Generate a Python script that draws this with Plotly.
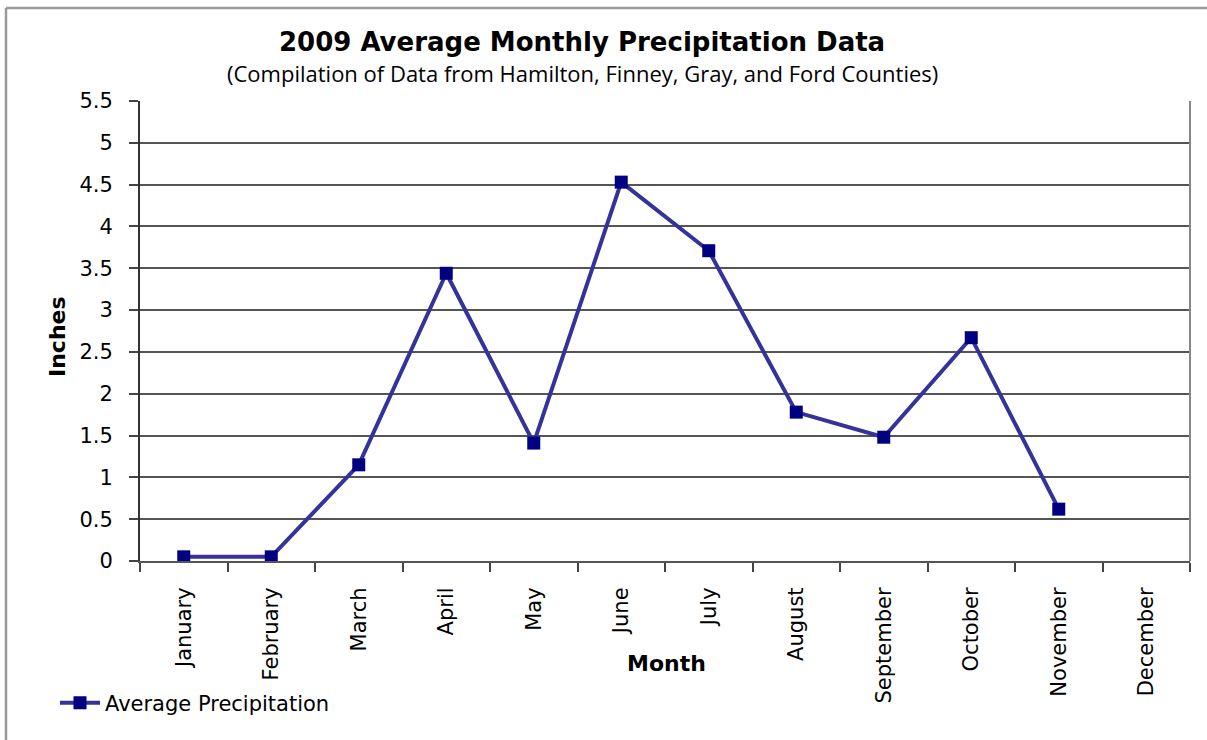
import plotly.graph_objects as go

months = ["January", "February", "March", "April", "May", "June", "July",
          "August", "September", "October", "November", "December"]
precip = [0.05, 0.05, 1.15, 3.44, 1.41, 4.53, 3.71, 1.78, 1.48, 2.67, 0.62, None]
y_ticks = [0, 0.5, 1, 1.5, 2, 2.5, 3, 3.5, 4, 4.5, 5, 5.5]
y_ticklabels = ["0", "0.5", "1", "1.5", "2", "2.5", "3", "3.5", "4", "4.5", "5", "5.5"]

W, H = 1207, 740
L, R, T, B = 140, 1190, 101, 561

def px(x):
    return (x - L) / (R - L)

def py(y):
    return (B - y) / (B - T)

SANS = "DejaVu Sans"

fig = go.Figure()
fig.add_trace(go.Scatter(
    x=months, y=precip, mode="lines+markers", name="Average Precipitation",
    line=dict(color="#333399", width=4),
    marker=dict(symbol="square", size=13, color="#000080"),
    connectgaps=False,
))

fig.update_layout(
    width=W, height=H,
    margin=dict(l=L, r=W - R, t=T, b=H - B, pad=0),
    paper_bgcolor="white", plot_bgcolor="white",
    font=dict(family=SANS, size=21, color="black"),
    showlegend=True,
    legend=dict(orientation="h", x=px(55), y=py(703), xanchor="left", yanchor="middle",
                font=dict(size=21, family=SANS), bgcolor="rgba(0,0,0,0)", itemwidth=40),
    xaxis=dict(type="category", range=[-0.5, 11.5], tickangle=-90,
               tickson="boundaries", ticks="outside", ticklen=9, tickcolor="#444",
               tickwidth=1.5, ticklabelstandoff=16,
               showline=True, linecolor="#555", linewidth=2, showgrid=False,
               tickfont=dict(size=21, family=SANS), fixedrange=True),
    yaxis=dict(range=[0, 5.5], tickvals=y_ticks, ticktext=y_ticklabels,
               ticks="outside", ticklen=9, tickcolor="#444", tickwidth=1.5,
               ticklabelstandoff=12,
               showline=True, linecolor="#333", linewidth=2,
               showgrid=True, gridcolor="#555", gridwidth=1.5,
               zeroline=False, tickfont=dict(size=21, family=SANS), fixedrange=True),
    annotations=[
        dict(text="<b>2009 Average Monthly Precipitation Data</b>", x=px(582), y=py(42),
             xref="paper", yref="paper", showarrow=False, xanchor="center", yanchor="middle",
             font=dict(size=26, family=SANS)),
        dict(text="(Compilation of Data from Hamilton, Finney, Gray, and Ford Counties)",
             x=px(582), y=py(73), xref="paper", yref="paper", showarrow=False,
             xanchor="center", yanchor="middle",
             font=dict(size=22, family="Open Sans")),
        dict(text="<b>Inches</b>", x=px(57), y=py(337), xref="paper", yref="paper",
             showarrow=False, textangle=-90, xanchor="center", yanchor="middle",
             font=dict(size=22, family=SANS)),
        dict(text="<b>Month</b>", x=px(666), y=py(663), xref="paper", yref="paper",
             showarrow=False, xanchor="center", yanchor="middle",
             font=dict(size=22, family=SANS)),
    ],
    shapes=[
        dict(type="line", xref="paper", yref="paper", x0=1, x1=1, y0=0, y1=1,
             line=dict(color="#888", width=2)),
        dict(type="line", xref="paper", yref="paper", x0=px(6), x1=px(6), y0=py(8), y1=py(760),
             line=dict(color="#999", width=2.5)),
        dict(type="line", xref="paper", yref="paper", x0=px(6), x1=px(1220), y0=py(8), y1=py(8),
             line=dict(color="#999", width=2.5)),
    ],
)

fig.write_html("out.html", post_script="document.body.style.margin='0';",
               config={"displayModeBar": False})
